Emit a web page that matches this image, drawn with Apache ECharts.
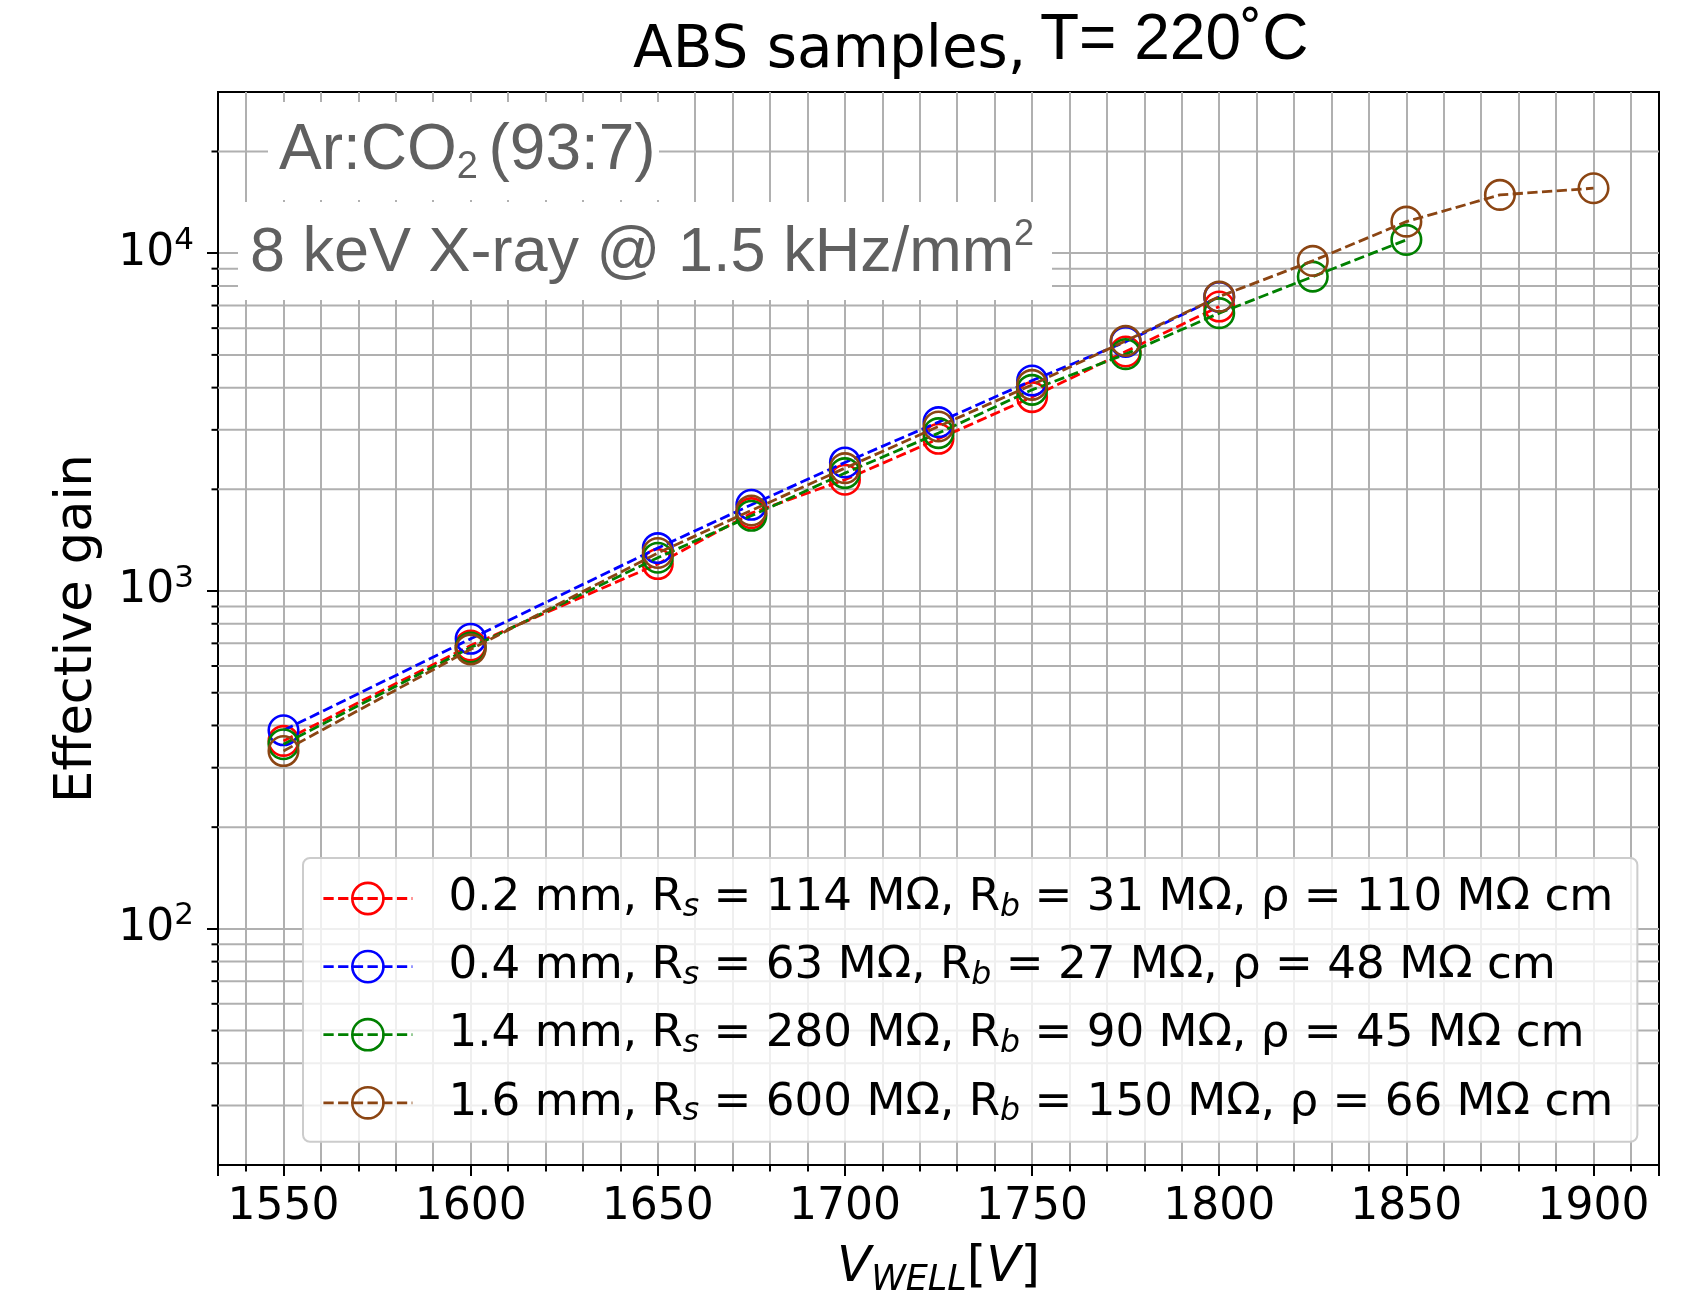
<!DOCTYPE html>
<html>
<head>
<meta charset="utf-8">
<script src="https://cdn.jsdelivr.net/npm/echarts@6/dist/echarts.min.js"></script>
<style>
html,body{margin:0;padding:0;background:#fff;}
#chart{width:1696px;height:1293px;}
</style>
</head>
<body>
<div id="chart"></div>
<script>
// ---------- data ----------
const vRed   = [1550, 1600, 1650, 1675, 1700, 1725, 1750, 1775, 1800];
const gRed   = [360, 690, 1202, 1700, 2135, 2822, 3750, 5116, 6950];
const vBlue  = [1550, 1600, 1650, 1675, 1700, 1725, 1750, 1775, 1800];
const gBlue  = [387, 722, 1340, 1800, 2402, 3162, 4197, 5465, 7420];
const vGreen = [1550, 1600, 1650, 1675, 1700, 1725, 1750, 1775, 1800, 1825, 1850];
const gGreen = [352, 680, 1255, 1670, 2234, 2934, 3940, 5025, 6645, 8525, 10950];
const vBrown = [1550, 1600, 1650, 1675, 1700, 1725, 1750, 1775, 1800, 1825, 1850, 1875, 1900];
const gBrown = [336, 672, 1296, 1732, 2311, 3069, 4077, 5500, 7437, 9489, 12400, 14877, 15570];

const seriesNames = ['r', 'b', 'g', 'br'];
const seriesColors = ['#ff0000', '#0000ff', '#008000', '#8b4513'];
const legendLabels = [
  ['0.2 mm, R', 's', ' = 114 MΩ, R', 'b', ' = 31 MΩ, ρ = 110 MΩ cm'],
  ['0.4 mm, R', 's', ' = 63 MΩ, R', 'b', ' = 27 MΩ, ρ = 48 MΩ cm'],
  ['1.4 mm, R', 's', ' = 280 MΩ, R', 'b', ' = 90 MΩ, ρ = 45 MΩ cm'],
  ['1.6 mm, R', 's', ' = 600 MΩ, R', 'b', ' = 150 MΩ, ρ = 66 MΩ cm']
];
const yMinorTicks = [30, 40, 50, 60, 70, 80, 90, 200, 300, 400, 500, 600, 700, 800, 900,
                     2000, 3000, 4000, 5000, 6000, 7000, 8000, 9000, 20000];
const X_MIN = 1532.5, X_MAX = 1917.5, Y_MIN = 20, Y_MAX = 30000;

const titleMain = 'ABS samples,';
const titleTemp = 'T= 220˚C';
const xName = ['V', 'WELL', '[', 'V', ']'];
const yName = 'Effective gain';
const gasText = ['Ar:CO', '2 ', '(93:7)'];
const beamText = ['8 keV X-ray @ 1.5 kHz/mm', '2'];

// ---------- build ----------
const DJ = 'DejaVu Sans';
const LS = 'Liberation Sans';
const GRID = '#b0b0b0';
const DASH = [10.3, 4.4];

function pairs(xs, ys) { return xs.map((x, i) => [x, ys[i]]); }
const allData = [pairs(vRed, gRed), pairs(vBlue, gBlue), pairs(vGreen, gGreen), pairs(vBrown, gBrown)];

const lineSeries = seriesNames.map((n, i) => ({
  name: n,
  type: 'line',
  data: allData[i],
  symbol: 'circle',
  symbolSize: 29.5,
  color: seriesColors[i],
  itemStyle: { color: 'rgba(0,0,0,0)', borderColor: seriesColors[i], borderWidth: 2.6 },
  lineStyle: { color: seriesColors[i], width: 2.8, type: DASH },
  z: 3 + i,
  silent: true
}));

const minorSeries = {
  type: 'custom',
  name: 'minor',
  silent: true,
  z: 1,
  data: yMinorTicks.map(v => [X_MIN, v]),
  renderItem: function (params, api) {
    const v = api.value(1);
    const p0 = api.coord([X_MIN, v]);
    const p1 = api.coord([X_MAX, v]);
    return {
      type: 'group',
      children: [
        { type: 'line', shape: { x1: p0[0], y1: p0[1], x2: p1[0], y2: p1[1] }, style: { stroke: GRID, lineWidth: 2 } },
        { type: 'line', shape: { x1: p0[0] - 6.5, y1: p0[1], x2: p0[0], y2: p0[1] }, style: { stroke: '#000', lineWidth: 2 } }
      ]
    };
  }
};

const legendRich = {
  p: { fontFamily: DJ, fontSize: 45.2, lineHeight: 50, color: '#000', padding: [0, 0, 0, 31] },
  t: { fontFamily: DJ, fontSize: 45.2, lineHeight: 50, color: '#000' },
  s: { fontFamily: DJ, fontSize: 31.5, fontStyle: 'italic', lineHeight: 26, verticalAlign: 'bottom', color: '#000' }
};

const option = {
  animation: false,
  backgroundColor: '#fff',
  grid: {
    left: 218, top: 92, width: 1441, height: 1073,
    show: true, borderColor: '#000', borderWidth: 2, backgroundColor: '#fff',
    containLabel: false, outerBoundsMode: 'none'
  },
  xAxis: {
    type: 'value',
    min: X_MIN, max: X_MAX,
    splitNumber: 8,
    axisLine: { show: true, onZero: false, lineStyle: { color: '#000', width: 2 } },
    axisTick: { show: true, length: 11, lineStyle: { color: '#000', width: 2 } },
    minorTick: { show: true, splitNumber: 5, length: 6.5, lineStyle: { color: '#000', width: 2 } },
    splitLine: { show: true, showMinLine: false, showMaxLine: false, lineStyle: { color: GRID, width: 2 } },
    minorSplitLine: { show: true, lineStyle: { color: GRID, width: 2 } },
    axisLabel: {
      show: true, color: '#000', fontFamily: DJ, fontSize: 44, margin: 21,
      showMinLabel: false, showMaxLabel: false,
      formatter: function (v) { return String(Math.round(v)); }
    },
    name: '{v|' + xName[0] + '}{w|' + xName[1] + '}{b|' + xName[2] + '}{v|' + xName[3] + '}{b|' + xName[4] + '}',
    nameLocation: 'middle',
    nameGap: 73,
    nameTextStyle: {
      rich: {
        v: { fontFamily: DJ, fontSize: 50, fontStyle: 'italic', lineHeight: 60, color: '#000' },
        b: { fontFamily: DJ, fontSize: 50, lineHeight: 60, color: '#000' },
        w: { fontFamily: DJ, fontSize: 35, fontStyle: 'italic', lineHeight: 40, verticalAlign: 'bottom', color: '#000' }
      }
    }
  },
  yAxis: {
    type: 'log',
    logBase: 10,
    min: Y_MIN, max: Y_MAX,
    axisLine: { show: true, lineStyle: { color: '#000', width: 2 } },
    axisTick: { show: true, length: 11, lineStyle: { color: '#000', width: 2 } },
    splitLine: { show: true, showMinLine: false, showMaxLine: false, lineStyle: { color: GRID, width: 2 } },
    axisLabel: {
      show: true, margin: 24, showMinLabel: false, showMaxLabel: false,
      formatter: function (v) {
        const e = Math.round(Math.log10(v));
        return '{b|10}{s|' + e + '}';
      },
      rich: {
        b: { fontFamily: DJ, fontSize: 44, lineHeight: 56, color: '#000' },
        s: { fontFamily: DJ, fontSize: 31, lineHeight: 30, verticalAlign: 'top', color: '#000' }
      }
    },
    name: yName,
    nameLocation: 'middle',
    nameGap: 115,
    nameTextStyle: { fontFamily: DJ, fontSize: 51, color: '#000' }
  },
  legend: {
    data: seriesNames,
    orient: 'vertical',
    left: 303, top: 858,
    padding: [18, 24, 14, 19],
    itemGap: 20.6,
    itemWidth: 89, itemHeight: 39,
    backgroundColor: 'rgba(255,255,255,0.8)',
    borderColor: '#cccccc', borderWidth: 2, borderRadius: 7,
    selectedMode: false,
    lineStyle: { width: 2.8, type: DASH },
    itemStyle: { borderWidth: 2.6 },
    formatter: function (name) {
      const L = legendLabels[seriesNames.indexOf(name)];
      return '{p|' + L[0] + '}{s|' + L[1] + '}{t|' + L[2] + '}{s|' + L[3] + '}{t|' + L[4] + '}';
    },
    textStyle: { rich: legendRich },
    z: 20
  },
  graphic: [
    { type: 'rect', z: 50, shape: { x: 1028, y: 20, width: 290, height: 71 }, style: { fill: '#fff' } },
    { type: 'text', z: 51, x: 633, y: 52.4,
      style: { text: titleMain, font: '58px "DejaVu Sans"', fill: '#000', verticalAlign: 'middle', align: 'left' } },
    { type: 'text', z: 51, x: 1040, y: 41.5,
      style: { text: titleTemp, font: '64px "Liberation Sans"', fill: '#000', verticalAlign: 'middle', align: 'left' } },
    { type: 'rect', z: 50, shape: { x: 268, y: 102, width: 391, height: 98 }, style: { fill: '#fff' } },
    { type: 'text', z: 51, x: 279, y: 116.8,
      style: {
        text: '{m|' + gasText[0] + '}{s|' + gasText[1] + '}{m|' + gasText[2] + '}', fill: '#606060', verticalAlign: 'top', align: 'left',
        rich: {
          m: { fontFamily: LS, fontSize: 64, lineHeight: 70, fill: '#606060', color: '#606060' },
          s: { fontFamily: LS, fontSize: 38, lineHeight: 40, verticalAlign: 'bottom', fill: '#606060', color: '#606060' }
        }
      } },
    { type: 'rect', z: 50, shape: { x: 238, y: 202, width: 814, height: 98 }, style: { fill: '#fff' } },
    { type: 'text', z: 51, x: 250, y: 217,
      style: {
        text: '{m|' + beamText[0] + '}{s|' + beamText[1] + '}', fill: '#606060', verticalAlign: 'top', align: 'left',
        rich: {
          m: { fontFamily: LS, fontSize: 63, lineHeight: 74, fill: '#606060', color: '#606060' },
          s: { fontFamily: LS, fontSize: 36, lineHeight: 44, verticalAlign: 'top', fill: '#606060', color: '#606060' }
        }
      } }
  ],
  series: [minorSeries].concat(lineSeries)
};

const chart = echarts.init(document.getElementById('chart'), null, { renderer: 'canvas', width: 1696, height: 1293 });
chart.setOption(option);
</script>
</body>
</html>
